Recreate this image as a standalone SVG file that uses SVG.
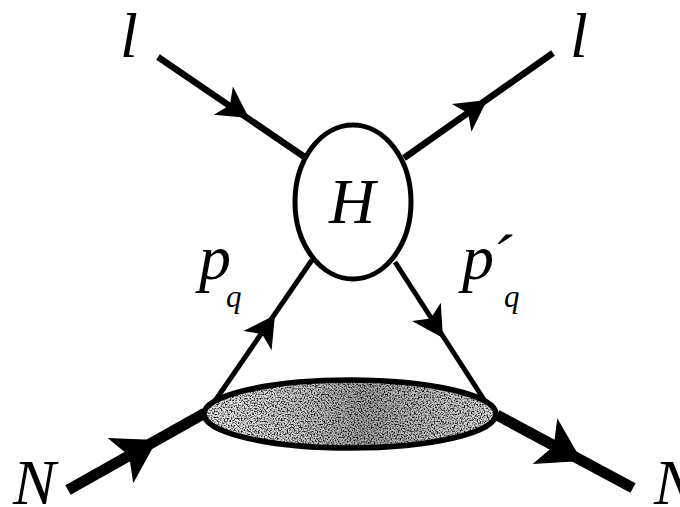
<svg xmlns="http://www.w3.org/2000/svg" xmlns:xlink="http://www.w3.org/1999/xlink" width="680" height="507" viewBox="0 0 680 507">
  <style>
    .lbl { font-family: "Liberation Serif", "Times New Roman", serif; font-style: italic; font-size: 64px; fill: #000; }
    .sub { font-family: "Liberation Serif", "Times New Roman", serif; font-style: italic; font-size: 31px; fill: #000; }
    .thin { stroke: #000; stroke-width: 6.5; fill: none; stroke-linecap: butt; }
    .mid { stroke: #000; stroke-width: 5; fill: none; }
    .thick { stroke: #000; stroke-width: 11; fill: none; }
    .arr { fill: #000; stroke: none; }
  </style>
  <defs>
    <path id="ah" d="M0,0 L-31,-17 L-23,0 L-31,17 Z"/>
    <path id="ahBig" d="M0,0 L-42,-26 L-32,0 L-42,26 Z"/>
    <linearGradient id="blobFill" x1="0" y1="0" x2="1" y2="0">
      <stop offset="0" stop-color="#ececec"/>
      <stop offset="0.3" stop-color="#cecece"/>
      <stop offset="0.55" stop-color="#a4a4a4"/>
      <stop offset="0.8" stop-color="#c4c4c4"/>
      <stop offset="1" stop-color="#dedede"/>
    </linearGradient>
    <filter id="speckle" x="0" y="0" width="1" height="1">
      <feTurbulence type="fractalNoise" baseFrequency="0.7" numOctaves="1" seed="7" result="n"/>
      <feColorMatrix in="n" type="matrix" values="0 0 0 0 0  0 0 0 0 0  0 0 0 0 0  3.4 0 0 0 -1.5" result="dots"/>
      <feComposite in="dots" in2="SourceAlpha" operator="in"/>
    </filter>
  </defs>

  <g id="connectors">
    <line class="thin" x1="158" y1="57" x2="306" y2="158"/>
    <line class="thin" x1="404" y1="158" x2="553" y2="53"/>
    <line class="mid" x1="312" y1="260" x2="208" y2="411"/>
    <line class="mid" x1="395" y1="262" x2="492" y2="412"/>
    <line class="thick" x1="68" y1="490" x2="205" y2="413"/>
    <line class="thick" x1="497" y1="415" x2="633" y2="488"/>
    <use href="#ah" class="arr" transform="translate(249,118) rotate(34.2)"/>
    <use href="#ah" class="arr" transform="translate(487,100) rotate(-35.1)"/>
    <use href="#ah" class="arr" transform="translate(275,315) rotate(-55.7)"/>
    <use href="#ah" class="arr" transform="translate(443,338) rotate(57.6)"/>
    <use href="#ahBig" class="arr" transform="translate(157,440) rotate(-29.5)"/>
    <use href="#ahBig" class="arr" transform="translate(582,461) rotate(28.2)"/>
  </g>

  <g id="H">
    <ellipse cx="353" cy="202" rx="58" ry="77" fill="#fff" stroke="#000" stroke-width="5"/>
    <text class="lbl" x="352" y="223" text-anchor="middle">H</text>
  </g>

  <g id="blob">
    <ellipse cx="350" cy="414" rx="146" ry="34" fill="url(#blobFill)"/>
    <ellipse cx="350" cy="414" rx="146" ry="34" fill="#000" filter="url(#speckle)"/>
    <ellipse cx="350" cy="414" rx="146" ry="34" fill="none" stroke="#000" stroke-width="5.5"/>
  </g>

  <g id="lepton-in"><text class="lbl" x="129" y="57" text-anchor="middle">l</text></g>
  <g id="lepton-out"><text class="lbl" x="579" y="57" text-anchor="middle">l</text></g>
  <g id="nucleon-in"><text class="lbl" x="13" y="504">N</text></g>
  <g id="nucleon-out"><text class="lbl" x="654" y="504">N</text></g>
  <g id="label-pq">
    <text class="lbl" x="199" y="279">p</text>
    <text class="sub" x="226" y="307">q</text>
  </g>
  <g id="label-pq-prime">
    <text class="lbl" x="462" y="279">p</text>
    <text class="lbl" x="501" y="279" text-anchor="middle">´</text>
    <text class="sub" x="504" y="307">q</text>
  </g>
</svg>
